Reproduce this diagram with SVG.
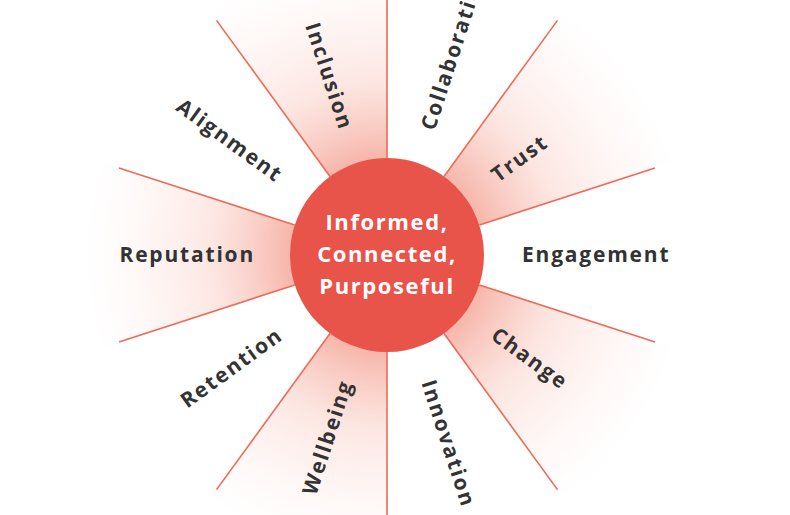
<svg xmlns="http://www.w3.org/2000/svg" width="790" height="515" viewBox="0 0 790 515">
<defs>
<radialGradient id="g" gradientUnits="userSpaceOnUse" cx="0" cy="0" r="320">
<stop offset="0.3" stop-color="#f08470" stop-opacity="0.6"/>
<stop offset="0.55" stop-color="#f6a898" stop-opacity="0.28"/>
<stop offset="0.95" stop-color="#fbd5cc" stop-opacity="0"/>
</radialGradient>
<style>
.w{fill:url(#g)}
.l{stroke:#ef6a56;stroke-width:1.6}
.t{font-family:"Open Sans",sans-serif;font-weight:bold;font-size:21px;fill:#333;letter-spacing:1.8px}
.c{font-family:"Open Sans",sans-serif;font-weight:bold;font-size:22px;fill:#fff;text-anchor:middle;letter-spacing:1.6px}
</style>
</defs>
<rect width="790" height="515" fill="#fff"/>
<g id="wedges" transform="translate(387,255)">
<path class="w" d="M0,0 L176.3,-242.7 A300,300 0 0 1 285.3,-92.7Z"/>
<path class="w" d="M0,0 L285.3,92.7 A300,300 0 0 1 176.3,242.7Z"/>
<path class="w" d="M0,0 L0,300 A300,300 0 0 1 -176.3,242.7Z"/>
<path class="w" d="M0,0 L-285.3,92.7 A300,300 0 0 1 -285.3,-92.7Z"/>
<path class="w" d="M0,0 L-176.3,-242.7 A300,300 0 0 1 0,-300Z"/>
</g>
<g id="connectors" transform="translate(387,255)">
<line class="l" x1="0" y1="-97" x2="0" y2="-290"/>
<line class="l" x1="57" y1="-78.5" x2="170.5" y2="-234.6"/>
<line class="l" x1="92.3" y1="-30" x2="268" y2="-87"/>
<line class="l" x1="92.3" y1="30" x2="268" y2="87"/>
<line class="l" x1="57" y1="78.5" x2="170.5" y2="234.6"/>
<line class="l" x1="0" y1="97" x2="0" y2="290"/>
<line class="l" x1="-57" y1="78.5" x2="-170.5" y2="234.6"/>
<line class="l" x1="-92.3" y1="30" x2="-268" y2="87"/>
<line class="l" x1="-92.3" y1="-30" x2="-268" y2="-87"/>
<line class="l" x1="-57" y1="-78.5" x2="-170.5" y2="-234.6"/>
</g>
<g id="center">
<circle cx="387" cy="255" r="97" fill="#e8534a"/>
<text class="c" x="387" y="230">Informed,</text>
<text class="c" x="387" y="262">Connected,</text>
<text class="c" x="387" y="294">Purposeful</text>
</g>
<g id="labels">
<g id="n-collab" transform="translate(387,255) rotate(-72)"><text class="t" x="132" y="7">Collaboration</text></g>
<g id="n-trust" transform="translate(387,255) rotate(-36)"><text class="t" x="132" y="7">Trust</text></g>
<g id="n-engage" transform="translate(387,255)"><text class="t" x="135" y="7">Engagement</text></g>
<g id="n-change" transform="translate(387,255) rotate(36)"><text class="t" x="132" y="7">Change</text></g>
<g id="n-innov" transform="translate(387,255) rotate(72)"><text class="t" x="132" y="7">Innovation</text></g>
<g id="n-well" transform="translate(387,255) rotate(-72)"><text class="t" x="-132" y="7" text-anchor="end">Wellbeing</text></g>
<g id="n-ret" transform="translate(387,255) rotate(-36)"><text class="t" x="-132" y="7" text-anchor="end">Retention</text></g>
<g id="n-rep" transform="translate(387,255)"><text class="t" x="-132" y="7" text-anchor="end">Reputation</text></g>
<g id="n-align" transform="translate(387,255) rotate(36)"><text class="t" x="-132" y="7" text-anchor="end">Alignment</text></g>
<g id="n-incl" transform="translate(387,255) rotate(72)"><text class="t" x="-132" y="7" text-anchor="end">Inclusion</text></g>
</g>
</svg>
